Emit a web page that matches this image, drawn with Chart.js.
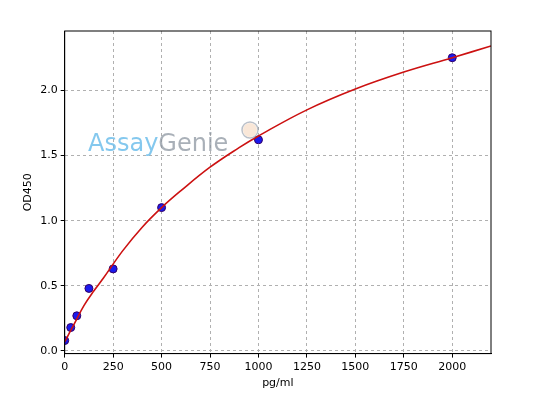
<!DOCTYPE html>
<html><head><script src="https://cdn.jsdelivr.net/npm/chart.js@4"></script>
<style>body{margin:0;background:#fff}#w{width:533px;height:400px}</style></head>
<body><div id="w"><canvas id="c"></canvas></div>
<script>
const stdX=[0,31.25,62.5,125,250,500,1000,2000];
const stdY=[0.08,0.18,0.27,0.48,0.63,1.10,1.62,2.25];
const fitX=[0,25,50,100,150,200,300,400,500,600,750,900,1000,1250,1500,1750,2000,2200];
const fitY=[0.07,0.14,0.21,0.35,0.46,0.56,0.77,0.95,1.10,1.23,1.41,1.56,1.65,1.85,2.01,2.14,2.25,2.34];
const xTicks=[0,250,500,750,1000,1250,1500,1750,2000];
const yTicks=[0,0.5,1.0,1.5,2.0];
const wm={id:'wm',afterDatasetsDraw(ch){const c=ch.ctx;c.save();c.font='24px "DejaVu Sans"';c.textBaseline='middle';
c.fillStyle='rgba(110,190,235,0.85)';c.fillText('Assay',88,145);const w=c.measureText('Assay').width;
c.fillStyle='rgba(140,150,160,0.75)';c.fillText('Genie',88+w,145);
c.strokeStyle='rgba(140,150,165,0.6)';c.lineWidth=1.5;c.beginPath();c.arc(250,130,8,0,7);c.stroke();
c.fillStyle='rgba(245,215,190,0.6)';c.beginPath();c.arc(250,130,7,0,7);c.fill();c.restore();}};
const gridOpt={color:'#b0b0b0',tickColor:'#000',tickLength:4};
new Chart(document.getElementById('c'),{type:'scatter',
data:{datasets:[
{type:'line',data:fitX.map((x,i)=>({x,y:fitY[i]})),borderColor:'#cc1111',borderWidth:1.6,pointRadius:0,tension:0.4,fill:false},
{data:stdX.map((x,i)=>({x,y:stdY[i]})),backgroundColor:'#1a1aee',borderColor:'#330066',borderWidth:1,pointRadius:4}]},
options:{responsive:true,maintainAspectRatio:false,animation:false,
layout:{padding:{left:20,right:42,top:31,bottom:10}},
plugins:{legend:{display:false},tooltip:{enabled:false}},
scales:{
x:{type:'linear',min:0,max:2200,afterBuildTicks:a=>{a.ticks=xTicks.map(v=>({value:v}))},
ticks:{color:'#000',font:{family:'DejaVu Sans',size:11},maxRotation:0,callback:v=>v},
grid:gridOpt,border:{display:true,color:'#000',dash:[3,3]},
title:{display:true,text:'pg/ml',color:'#000',font:{family:'DejaVu Sans',size:11},padding:0}},
y:{min:-0.02,max:2.455,afterBuildTicks:a=>{a.ticks=yTicks.map(v=>({value:v}))},
ticks:{color:'#000',font:{family:'DejaVu Sans',size:11},callback:v=>v.toFixed(1)},
grid:gridOpt,border:{color:'#000',dash:[3,3]},
title:{display:true,text:'OD450',color:'#000',font:{family:'DejaVu Sans',size:11},padding:2}}}},
plugins:[wm,{id:'frame',afterDraw(ch){const a=ch.chartArea,c=ch.ctx;c.save();c.setLineDash([]);c.strokeStyle='#000';c.lineWidth=1;c.strokeRect(a.left,a.top,a.right-a.left,a.bottom-a.top);c.restore();}}]});
</script></body></html>
